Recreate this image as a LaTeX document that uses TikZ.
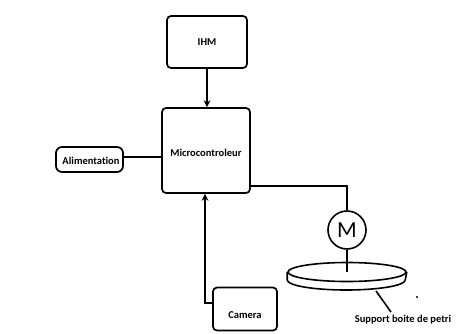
\documentclass[tikz,border=0pt]{standalone}
\usepackage{fontspec}
\setmainfont[Ligatures=NoCommon]{Carlito}
\usetikzlibrary{arrows.meta,shapes.geometric}
\begin{document}
\begin{tikzpicture}[x=1pt,y=-1pt,
  wire/.style={line width=1.6pt,black},
  arr/.style={wire,-{Stealth[length=7pt,width=7pt,inset=2.5pt]}},
  blk/.style={draw,line width=1.7pt,rounded corners=4pt,inner sep=0pt},
  lbl/.style={font=\bfseries\fontsize{10.5}{12}\selectfont,inner sep=0pt}]
\useasboundingbox (0,0) rectangle (467,333);
\node[blk,minimum width=80pt,minimum height=52pt,font=\bfseries\fontsize{10.5}{12}\selectfont] (ihm) at (207,42) {IHM};
\node[blk,minimum width=88pt,minimum height=85pt] (mc) at (206,150.5) {};
\node[lbl] (mctext) at (206,153) {Microcontroleur};
\node[blk,rounded corners=6pt,minimum width=67pt,minimum height=25pt] (alim) at (89.5,159.5) {};
\node[lbl] (alimtext) at (91,161) {Alimentation};
\node[blk,minimum width=64pt,minimum height=43pt] (cam) at (245,309) {};
\node[lbl] (camtext) at (245,315) {Camera};
\node[circle,draw,line width=1.6pt,minimum size=38pt,inner sep=0pt,font=\fontsize{23}{25}\selectfont] (mot) at (347,230) {M};
\node[ellipse,draw,line width=1.6pt,minimum width=118pt,minimum height=19pt,inner sep=0pt] (plate) at (347,272) {};
\draw[line width=1.6pt] (plate.west) -- ++(0,8) arc[start angle=180,end angle=0,x radius=59,y radius=10] -- (plate.east);
\node[lbl] (sup) at (403,320) {Support boite de petri};
\coordinate (mcr) at (250,186);
\coordinate (alimr) at (123,157);
\coordinate (mcl) at (162,157);
\coordinate (camc) at (205,303);
\coordinate (lead1) at (376,291);
\coordinate (lead2) at (391,312);
\draw[arr] (ihm.south) -- (ihm.south |- mc.north);
\draw[wire] (alimr) -- (mcl);
\draw[wire] (mcr) -| (mot.north);
\draw[wire] (mot.south) -- (plate.center);
\draw[arr] (cam.west |- camc) -- (camc) -- (camc |- mc.south);
\draw[wire] (lead1) -- (lead2);
\fill (417,297) circle[radius=1.1pt];
\end{tikzpicture}
\end{document}
